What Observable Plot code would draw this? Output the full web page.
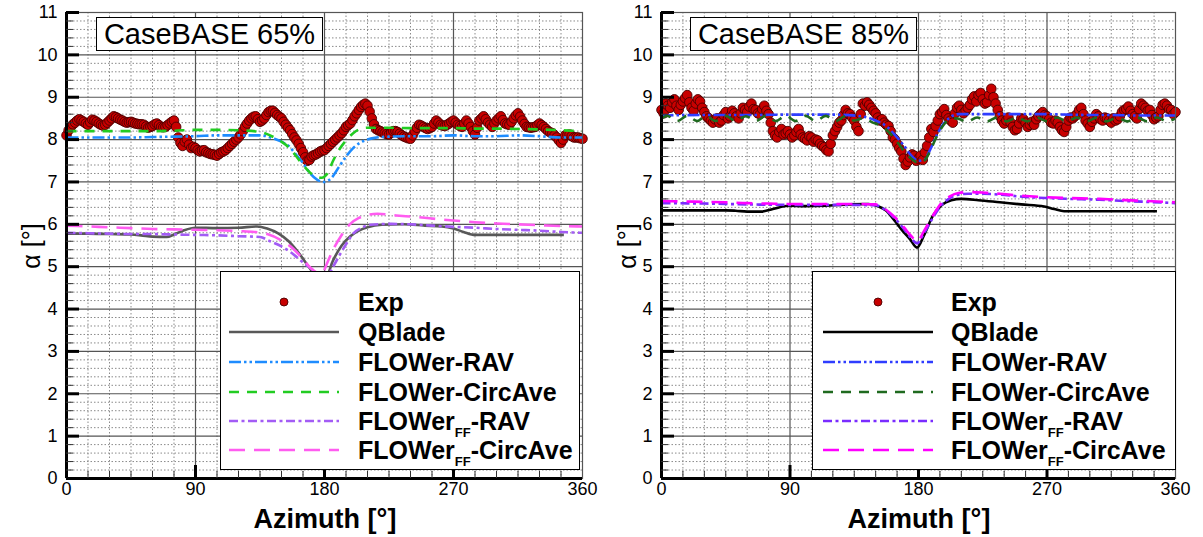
<!DOCTYPE html>
<html><head><meta charset="utf-8">
<script src="https://cdn.jsdelivr.net/npm/d3@7"></script>
<script src="https://cdn.jsdelivr.net/npm/@observablehq/plot@0.6"></script>
<style>
body{margin:0;background:#fff;}
#wrap{position:relative;width:1203px;height:537px;overflow:hidden;font-family:"Liberation Sans",Arial,Helvetica,sans-serif;background:#fff;}
.panel{position:absolute;top:0;}
.title{position:absolute;top:17px;height:32px;width:225px;border:1px solid #000;background:#fff;font-size:29px;line-height:33px;text-align:center;white-space:nowrap;}
.legend{position:absolute;top:271px;height:197px;border:1px solid #000;background:#fff;}
.row{position:absolute;left:0;height:30px;}
.row svg{position:absolute;top:0;}
.row span.t{position:absolute;top:0;font-weight:bold;font-size:25px;line-height:30px;white-space:nowrap;}
.sub{font-size:13px;vertical-align:-7px;}
.ylab{position:absolute;font-size:25px;white-space:nowrap;transform:translate(-50%,-50%) rotate(-90deg);}
.xlab{position:absolute;font-size:27px;font-weight:bold;white-space:nowrap;transform:translate(-50%,-50%);}
</style></head>
<body><div id="wrap"></div>
<script>
// ---------------- data ----------------
// Exp samples on a 3° grid, plus readings half-way between them (1.5°, 4.5°, ...)
const expAzimuth = d3.range(0, 361, 3);
const expAzimuthMid = d3.range(1.5, 360, 3);
const exp65 = [
 8.10,8.30,8.40,8.48,8.42,8.35,8.47,8.42,8.35,8.35,
 8.45,8.55,8.50,8.45,8.40,8.42,8.38,8.36,8.35,8.28,
 8.32,8.38,8.30,8.30,8.38,8.45,8.05,7.85,8.00,7.80,
 7.80,7.72,7.75,7.68,7.65,7.62,7.70,7.75,7.85,7.95,
 8.05,8.20,8.38,8.50,8.55,8.42,8.50,8.65,8.68,8.58,
 8.50,8.35,8.22,8.05,7.90,7.70,7.50,7.60,7.65,7.72,
 7.75,7.85,7.95,8.05,8.15,8.30,8.38,8.55,8.70,8.82,
 8.80,8.50,8.25,8.20,8.15,8.12,8.20,8.18,8.10,8.05,
 8.02,8.20,8.35,8.30,8.25,8.30,8.45,8.35,8.32,8.38,
 8.45,8.35,8.30,8.45,8.30,8.12,8.45,8.55,8.40,8.30,
 8.45,8.55,8.38,8.35,8.50,8.62,8.45,8.30,8.28,8.30,
 8.38,8.30,8.20,8.15,8.05,7.92,8.10,8.12,8.05,8.05,
 8.02];
const exp65Mid = [
 8.22,8.36,8.45,8.45,8.38,8.41,8.45,8.38,8.33,8.40,
 8.50,8.53,8.47,8.42,8.41,8.40,8.37,8.36,8.31,8.30,
 8.36,8.34,8.29,8.34,8.42,8.30,7.92,7.95,7.88,7.83,
 7.75,7.74,7.70,7.66,7.64,7.66,7.72,7.80,7.90,8.00,
 8.12,8.30,8.45,8.54,8.48,8.45,8.58,8.68,8.63,8.54,
 8.42,8.28,8.13,7.98,7.80,7.58,7.52,7.63,7.68,7.74,
 7.80,7.90,8.00,8.10,8.22,8.34,8.46,8.62,8.77,8.85,
 8.66,8.36,8.22,8.17,8.13,8.16,8.20,8.14,8.07,8.03,
 8.10,8.28,8.33,8.27,8.27,8.38,8.40,8.33,8.35,8.42,
 8.40,8.32,8.38,8.38,8.20,8.28,8.50,8.48,8.35,8.38,
 8.50,8.46,8.36,8.42,8.57,8.54,8.37,8.29,8.29,8.34,
 8.34,8.25,8.17,8.10,7.98,8.00,8.11,8.08,8.05,8.03];
const exp85 = [
 8.70,8.85,8.75,8.95,8.70,8.90,9.05,8.75,8.85,8.90,
 8.65,8.50,8.40,8.50,8.45,8.65,8.55,8.62,8.50,8.75,
 8.65,8.85,8.70,8.60,8.80,8.60,8.20,8.05,8.25,8.15,
 8.12,8.10,8.25,8.05,7.98,8.05,8.00,7.90,7.82,7.72,
 8.10,8.30,8.45,8.70,8.60,8.45,8.20,8.85,8.88,8.75,
 8.62,8.45,8.40,8.32,8.05,7.90,7.72,7.40,7.58,7.62,
 7.55,7.52,7.85,8.25,8.32,8.60,8.72,8.50,8.40,8.75,
 8.70,8.68,8.82,9.02,9.05,8.95,8.88,9.20,8.85,8.55,
 8.38,8.52,8.30,8.25,8.50,8.40,8.35,8.35,8.55,8.65,
 8.55,8.40,8.45,8.30,8.18,8.45,8.50,8.60,8.75,8.45,
 8.30,8.50,8.55,8.45,8.50,8.40,8.45,8.55,8.70,8.78,
 8.60,8.50,8.85,8.75,8.70,8.48,8.55,8.82,8.80,8.70,
 8.65];
const exp85Mid = [
 8.62,8.80,8.88,8.80,8.82,8.98,8.88,8.68,8.95,8.75,
 8.55,8.45,8.48,8.40,8.58,8.50,8.68,8.55,8.62,8.70,
 8.78,8.72,8.62,8.72,8.68,8.40,8.10,8.18,8.12,8.20,
 8.05,8.18,8.12,8.02,8.08,7.95,7.98,7.85,7.75,7.90,
 8.20,8.40,8.58,8.62,8.52,8.30,8.60,8.80,8.82,8.68,
 8.52,8.48,8.35,8.20,8.00,7.80,7.55,7.48,7.65,7.50,
 7.62,7.70,8.05,8.18,8.45,8.65,8.58,8.45,8.62,8.80,
 8.62,8.75,8.95,8.90,9.10,8.85,9.05,9.00,8.70,8.45,
 8.45,8.40,8.22,8.38,8.48,8.30,8.42,8.48,8.60,8.58,
 8.48,8.38,8.40,8.22,8.30,8.52,8.55,8.70,8.60,8.38,
 8.42,8.60,8.48,8.52,8.45,8.50,8.48,8.65,8.72,8.68,
 8.55,8.72,8.80,8.68,8.58,8.52,8.70,8.85,8.72,8.60];

// model curves: [azimuth, alpha]
const qblade65 = [[0,5.78],[15,5.78],[30,5.77],[45,5.76],[52,5.74],[60,5.71],[70,5.7],[75,5.76],[82,5.86],[90,5.92],[105,5.91],[120,5.92],[133,5.95],[140,5.9],[148,5.78],[155,5.6],[163,5.28],[170,4.95],[176,4.7],[180,4.68],[186,5.15],[192,5.5],[198,5.72],[204,5.85],[210,5.93],[220,5.99],[235,6.0],[250,5.97],[262,5.95],[270,5.9],[277,5.82],[285,5.75],[300,5.75],[315,5.75],[330,5.75],[347,5.75]];
const rav65 = [[0,8.05],[15,8.05],[30,8.05],[45,8.05],[60,8.06],[75,8.07],[90,8.08],[105,8.1],[120,8.1],[135,8.1],[145,8.02],[150,7.95],[155,7.85],[160,7.65],[165,7.45],[170,7.2],[175,7.05],[180,7.0],[185,7.1],[190,7.35],[195,7.6],[200,7.8],[205,7.93],[210,8.0],[215,8.04],[225,8.07],[240,8.08],[255,8.08],[270,8.1],[285,8.08],[300,8.08],[315,8.1],[330,8.08],[345,8.05],[360,8.05]];
const circ65 = [[0,8.2],[15,8.2],[30,8.2],[45,8.2],[60,8.2],[75,8.21],[90,8.23],[105,8.23],[120,8.22],[135,8.18],[145,8.05],[150,7.95],[155,7.82],[160,7.62],[165,7.4],[170,7.22],[175,7.12],[178,7.1],[182,7.2],[186,7.5],[190,7.75],[195,7.98],[200,8.15],[205,8.25],[210,8.28],[225,8.28],[240,8.27],[255,8.27],[270,8.27],[285,8.26],[300,8.26],[315,8.25],[330,8.24],[345,8.22],[360,8.2]];
const ffRav65 = [[0,5.8],[15,5.79],[30,5.78],[45,5.77],[60,5.77],[75,5.76],[90,5.75],[105,5.74],[120,5.72],[135,5.7],[142,5.6],[150,5.48],[158,5.3],[165,5.1],[172,4.92],[178,4.75],[182,4.78],[186,5.0],[191,5.3],[196,5.58],[200,5.78],[206,5.92],[212,5.99],[225,6.01],[240,6.0],[255,5.97],[270,5.94],[285,5.92],[300,5.89],[315,5.87],[330,5.85],[345,5.82],[360,5.8]];
const ffCirc65 = [[0,5.97],[15,5.95],[30,5.93],[45,5.91],[60,5.89],[75,5.88],[90,5.87],[105,5.86],[120,5.84],[131,5.82],[140,5.77],[150,5.62],[158,5.43],[165,5.18],[170,4.98],[175,4.85],[178,4.82],[182,5.1],[186,5.4],[192,5.75],[198,6.01],[204,6.15],[210,6.22],[217,6.25],[230,6.21],[245,6.17],[260,6.12],[270,6.09],[285,6.05],[300,6.02],[315,6.0],[330,5.98],[345,5.96],[360,5.95]];

const qblade85 = [[0,6.33],[15,6.33],[30,6.33],[45,6.33],[52,6.32],[60,6.3],[70,6.3],[78,6.36],[89,6.44],[100,6.43],[115,6.44],[131,6.47],[145,6.48],[152,6.42],[157,6.33],[163,6.1],[168,5.88],[174,5.65],[179,5.45],[184,5.75],[190,6.2],[196,6.45],[203,6.57],[210,6.6],[222,6.57],[237,6.52],[252,6.47],[268,6.42],[275,6.36],[282,6.31],[300,6.31],[320,6.31],[347,6.31]];
const rav85 = [[0,8.57],[30,8.58],[60,8.58],[90,8.59],[120,8.59],[140,8.55],[150,8.45],[158,8.3],[165,8.05],[170,7.85],[175,7.62],[180,7.5],[184,7.52],[188,7.75],[192,8.05],[197,8.35],[202,8.52],[208,8.6],[225,8.6],[240,8.6],[255,8.6],[270,8.6],[285,8.59],[300,8.58],[315,8.58],[330,8.57],[345,8.57],[360,8.57]];
const circ85 = [[0,8.5],[4,8.56],[11,8.44],[18,8.56],[25,8.44],[31,8.56],[38,8.44],[45,8.56],[52,8.44],[59,8.55],[66,8.44],[73,8.56],[80,8.44],[87,8.56],[94,8.44],[101,8.56],[108,8.44],[115,8.56],[122,8.44],[129,8.55],[135,8.45],[141,8.5],[148,8.4],[155,8.3],[160,8.15],[165,7.95],[170,7.72],[175,7.55],[180,7.45],[184,7.5],[188,7.72],[192,8.02],[197,8.32],[202,8.48],[207,8.5],[214,8.42],[221,8.52],[228,8.43],[235,8.52],[242,8.43],[249,8.52],[256,8.43],[263,8.52],[270,8.43],[277,8.52],[284,8.43],[291,8.52],[298,8.43],[305,8.52],[312,8.43],[319,8.52],[326,8.43],[333,8.52],[340,8.43],[347,8.52],[354,8.43],[360,8.5]];
const ffRav85 = [[0,6.5],[30,6.49],[60,6.47],[90,6.46],[120,6.46],[150,6.45],[157,6.33],[164,6.12],[170,5.88],[175,5.66],[179,5.55],[184,5.8],[190,6.15],[196,6.45],[202,6.62],[208,6.7],[215,6.72],[225,6.72],[237,6.7],[250,6.66],[269,6.62],[285,6.6],[307,6.58],[325,6.55],[340,6.53],[360,6.5]];
const ffCirc85 = [[0,6.55],[15,6.54],[30,6.53],[45,6.52],[60,6.5],[75,6.49],[90,6.48],[105,6.48],[120,6.48],[135,6.48],[150,6.47],[157,6.35],[164,6.15],[170,5.92],[175,5.72],[179,5.6],[184,5.85],[190,6.2],[196,6.5],[202,6.66],[208,6.74],[215,6.76],[225,6.75],[237,6.72],[250,6.68],[269,6.64],[285,6.62],[307,6.6],[325,6.57],[340,6.55],[360,6.52]];

const seriesNames = ["Exp","QBlade","FLOWer-RAV","FLOWer-CircAve","FLOWerFF-RAV","FLOWerFF-CircAve"];
const xTicks = [0, 90, 180, 270, 360];
const yTicks = [0,1,2,3,4,5,6,7,8,9,10,11];

// ---------------- styles ----------------
const FONT = '"Liberation Sans", Arial, Helvetica, sans-serif';
const dashes = {qb: null, rav: "12,3,2.5,3,2.5,3", circ: "10,8", ffRav: "9,3.5,3,3.5", ffCirc: "16,9"};
const styles65 = {qb:"#585858", rav:"#1e8cff", circ:"#22cc22", ffRav:"#a35cf5", ffCirc:"#ff5cf0"};
const styles85 = {qb:"#000000", rav:"#2f3dff", circ:"#1f6a1f", ffRav:"#7a2cff", ffCirc:"#ff00ff"};

const majorX = [90,180,270];
const minorX = d3.range(15, 360, 15).filter(d => d % 90 !== 0);
const majorY = d3.range(1, 11);
const minorY = d3.range(1, 55).map(i => i / 5).filter(d => !Number.isInteger(d));

function toObj(arr){ return arr.map(([az, a]) => ({az, a})); }

function makePanel({width, marginLeft, marginRight, exp, expMid, curves, col}) {
  const marginTop = 12, marginBottom = 59, height = 537;
  const W = width - marginLeft - marginRight;
  const H = height - marginTop - marginBottom;
  const expData = expAzimuth.map((az, i) => ({az, a: exp[i]}))
    .concat(expAzimuthMid.map((az, i) => ({az, a: expMid[i]})))
    .sort((p, q) => p.az - q.az);
  const lineMark = (key) => Plot.line(toObj(curves[key]), {
    x: "az", y: "a", curve: "monotone-x", stroke: col[key], strokeWidth: 2.6,
    strokeDasharray: dashes[key], strokeLinecap: "butt"
  });
  return Plot.plot({
    width, height, marginLeft, marginRight, marginTop, marginBottom,
    style: {fontFamily: FONT, fontSize: "18px", color: "#000", background: "transparent", overflow: "visible"},
    x: {domain: [0, 360]},
    y: {domain: [0, 11]},
    marks: [
      Plot.ruleX(minorX, {stroke: "#8a8a8a", strokeWidth: 1, strokeDasharray: "1.5,2"}),
      Plot.ruleY(minorY, {stroke: "#8a8a8a", strokeWidth: 1, strokeDasharray: "1.5,2"}),
      Plot.ruleX(majorX, {stroke: "#555", strokeWidth: 1.2}),
      Plot.ruleY(majorY, {stroke: "#555", strokeWidth: 1.2}),
      Plot.dot(expData, {x: "az", y: "a", r: 4.8, fill: "#c80000", stroke: "#4a0000", strokeWidth: 0.9}),
      lineMark("qb"), lineMark("rav"), lineMark("circ"), lineMark("ffRav"), lineMark("ffCirc"),
      Plot.frame({stroke: "#555", strokeWidth: 1.2}),
      Plot.ruleX([0], {stroke: "#000", strokeWidth: 3}),
      Plot.ruleY([0], {stroke: "#000", strokeWidth: 3}),
      Plot.tickY(minorY, {y: d => d, insetRight: W - 7, stroke: "#333", strokeWidth: 1}),
      Plot.tickY(majorY.concat([11]), {y: d => d, insetRight: W - 13, stroke: "#000", strokeWidth: 3}),
      Plot.tickX(minorX, {x: d => d, insetTop: H - 7, stroke: "#333", strokeWidth: 1}),
      Plot.tickX(majorX, {x: d => d, insetTop: H - 13, stroke: "#000", strokeWidth: 3}),
      Plot.axisX({ticks: xTicks, tickSize: 0, tickPadding: 4, fontSize: 18, label: null, tickFormat: d => String(d)}),
      Plot.axisY({ticks: yTicks, tickSize: 0, tickPadding: 9, fontSize: 18, label: null, tickFormat: d => String(d)})
    ]
  });
}

const wrap = document.getElementById("wrap");

function addPanel(left, cfg) {
  const d = document.createElement("div");
  d.className = "panel"; d.style.left = left + "px";
  d.appendChild(makePanel(cfg));
  wrap.appendChild(d);
}

addPanel(0, {width: 600, marginLeft: 66, marginRight: 18, exp: exp65, expMid: exp65Mid,
  curves: {qb: qblade65, rav: rav65, circ: circ65, ffRav: ffRav65, ffCirc: ffCirc65}, col: styles65});
addPanel(600, {width: 603, marginLeft: 61, marginRight: 28, exp: exp85, expMid: exp85Mid,
  curves: {qb: qblade85, rav: rav85, circ: circ85, ffRav: ffRav85, ffCirc: ffCirc85}, col: styles85});

function addDiv(cls, html, css) {
  const d = document.createElement("div");
  d.className = cls; d.innerHTML = html;
  Object.assign(d.style, css);
  wrap.appendChild(d);
  return d;
}

// titles
addDiv("title", "CaseBASE 65%", {left: "96px"});
addDiv("title", "CaseBASE 85%", {left: "690px"});
// axis labels
addDiv("ylab", "α [°]", {left: "31px", top: "246px"});
addDiv("ylab", "α [°]", {left: "627px", top: "246px"});
addDiv("xlab", "Azimuth [°]", {left: "325px", top: "519px"});
addDiv("xlab", "Azimuth [°]", {left: "919px", top: "519px"});

// legends
function legendLabel(name) {
  if (name.startsWith("FLOWerFF")) return 'FLOWer<span class="sub">FF</span>' + name.slice(8);
  return name;
}
function addLegend(left, width, sampleX, textX, col) {
  const lg = addDiv("legend", "", {left: left + "px", width: width + "px"});
  const rowsY = [30, 60, 90, 120, 149, 178];
  const keys = [null, "qb", "rav", "circ", "ffRav", "ffCirc"];
  seriesNames.forEach((name, i) => {
    const row = document.createElement("div");
    row.className = "row";
    row.style.top = (rowsY[i] - 15) + "px";
    row.style.width = width + "px";
    let svg;
    if (i === 0) {
      svg = `<svg width="110" height="30" style="left:${sampleX}px"><circle cx="55" cy="15" r="4" fill="#c80000" stroke="#4a0000" stroke-width="0.9"/></svg>`;
    } else {
      const k = keys[i];
      svg = `<svg width="110" height="30" style="left:${sampleX}px"><line x1="0" x2="110" y1="15" y2="15" stroke="${col[k]}" stroke-width="2.6" ${dashes[k] ? `stroke-dasharray="${dashes[k]}"` : ""}/></svg>`;
    }
    row.innerHTML = svg + `<span class="t" style="left:${textX}px">${legendLabel(name)}</span>`;
    lg.appendChild(row);
  });
}
addLegend(220, 358, 8, 137, styles65);
addLegend(812, 362, 10, 138, styles85);
</script>
</body></html>
